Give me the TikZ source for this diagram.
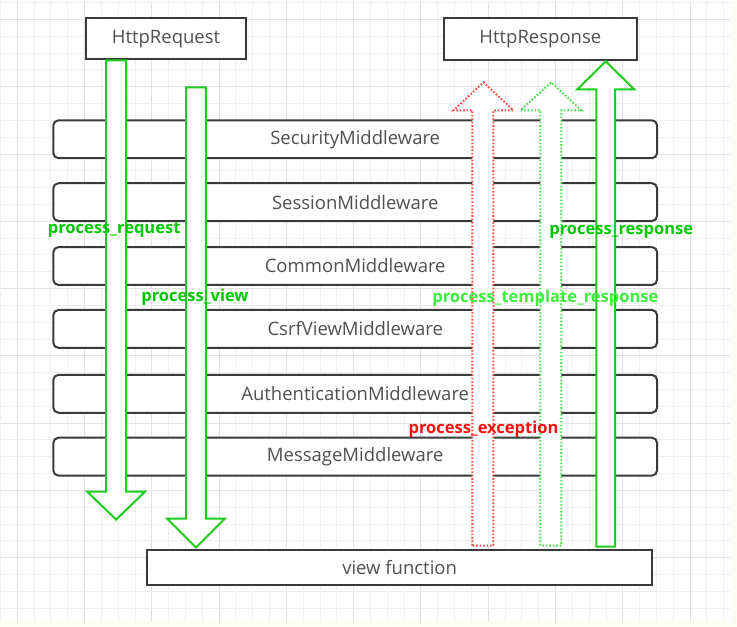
\documentclass[tikz,border=0pt]{standalone}
\usepackage{fontspec}
\setmainfont{Open Sans}
\usetikzlibrary{positioning}
\definecolor{paper}{HTML}{FDFDF2}
\definecolor{gridminor}{HTML}{F0F0F0}
\definecolor{gridmajor}{HTML}{E2E2E2}
\definecolor{boxline}{HTML}{3A3A3A}
\definecolor{boxtext}{HTML}{505050}
\definecolor{okgreen}{HTML}{1ECC1E}
\definecolor{oktext}{HTML}{00C800}
\definecolor{tplgreen}{HTML}{4ADF4A}
\definecolor{tpltext}{HTML}{3EEE3E}
\definecolor{errred}{HTML}{FF4A4A}
\definecolor{errtext}{HTML}{FF1010}

\begin{document}
\begin{tikzpicture}[x=0.75pt,y=-0.75pt,
  mw/.style={draw=boxline, line width=1.5pt, rounded corners=4pt, fill=white,
    minimum width=453.75pt, minimum height=28.5pt, inner sep=0pt,
    text=boxtext, font=\fontsize{13.9}{15}\selectfont},
  endbox/.style={draw=boxline, line width=1.5pt, fill=white, inner sep=0pt,
    text=boxtext, font=\fontsize{13.9}{15}\selectfont},
  okarrow/.style={draw=okgreen, line width=1.5pt, fill=white, line join=miter},
  tplarrow/.style={draw=tplgreen, line width=1.5pt, fill=white, dash pattern=on 1.2pt off 1.4pt},
  errarrow/.style={draw=errred, line width=1.5pt, fill=white, dash pattern=on 1.2pt off 1.4pt},
  hook/.style={font=\fontsize{12.4}{14}\selectfont\bfseries, inner sep=0pt}]
% background and grid
\fill[paper] (0,0) rectangle (737,627);
\fill[white] (0,0) rectangle (730,623);
\foreach \k in {-1,...,42}{
  \pgfmathsetmacro{\gx}{16+\k*16.85}
  \pgfmathparse{mod(\k+4,4)==0 ? "gridmajor" : "gridminor"}
  \ifdim\gx pt<730pt \draw[\pgfmathresult, line width=0.75pt] (\gx,0) -- (\gx,623); \fi
}
\foreach \k in {-1,...,36}{
  \pgfmathsetmacro{\gy}{19+\k*16.85}
  \pgfmathparse{mod(\k+4,4)==0 ? "gridmajor" : "gridminor"}
  \ifdim\gy pt<623pt \draw[\pgfmathresult, line width=0.75pt] (0,\gy) -- (730,\gy); \fi
}

% request / response
\node[endbox, minimum width=120pt, minimum height=30.75pt] (req) at (165,38.5) {HttpRequest};
\node[endbox, minimum width=145.5pt, minimum height=31.5pt] (resp) at (540,39) {HttpResponse};

% middleware stack
\node[mw] (security) at (354.5,139) {SecurityMiddleware};
\node[mw] (session) at (354.5,202) {SessionMiddleware};
\node[mw] (common) at (354.5,266) {CommonMiddleware};
\node[mw] (csrf) at (354.5,329) {CsrfViewMiddleware};
\node[mw] (auth) at (354.5,394) {AuthenticationMiddleware};
\node[mw] (message) at (354.5,457) {MessageMiddleware};

\node[endbox, minimum width=379.5pt, minimum height=27pt] (view) at (399,568) {view function};

% downward arrows
\draw[okarrow] (105,60) -- (105,492) -- (86,492) -- (115,520) -- (144,492) -- (125,492) -- (125,60) -- cycle;
\draw[okarrow] (185,87) -- (185,519) -- (166,519) -- (195,548) -- (224,519) -- (205,519) -- (205,87) -- cycle;

% upward arrows
\draw[errarrow] (472,546) -- (472,110) -- (453,110) -- (483,82) -- (513,110) -- (493,110) -- (493,546) -- cycle;
\draw[tplarrow] (540,546) -- (540,110) -- (520,110) -- (551,82) -- (581,110) -- (561,110) -- (561,546) -- cycle;
\draw[okarrow] (596,547) -- (596,89) -- (577,89) -- (605.5,61) -- (634,89) -- (615,89) -- (615,547) -- cycle;

% hook labels
\node[hook, text=oktext] (lreq) at (113,230) {process\_request};
\node[hook, text=oktext] (lview) at (194,297) {process\_view};
\node[hook, text=oktext] (lresp) at (621,232) {process\_response};
\node[hook, text=tpltext] (ltpl) at (545,298) {process\_template\_response};
\node[hook, text=errtext] (lexc) at (483,429) {process\_exception};

\useasboundingbox (0,0) rectangle (737,627);
\end{tikzpicture}
\end{document}
